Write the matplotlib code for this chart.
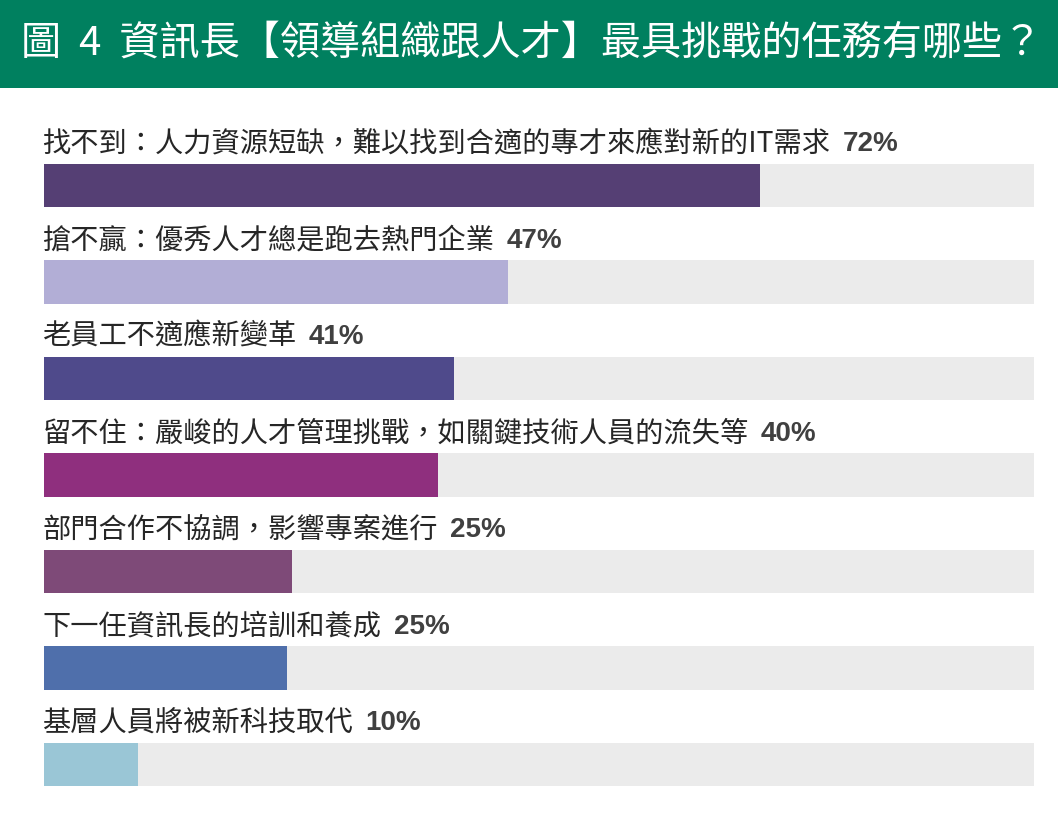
import matplotlib
matplotlib.use("Agg")
import matplotlib.pyplot as plt
from matplotlib.patches import Rectangle

plt.rcParams['font.family'] = ['Noto Sans CJK TC', 'DejaVu Sans']

title = "圖  4  資訊長【領導組織跟人才】最具挑戰的任務有哪些？"
labels = [
    "找不到：人力資源短缺，難以找到合適的專才來應對新的IT需求",
    "搶不贏：優秀人才總是跑去熱門企業",
    "老員工不適應新變革",
    "留不住：嚴峻的人才管理挑戰，如關鍵技術人員的流失等",
    "部門合作不協調，影響專案進行",
    "下一任資訊長的培訓和養成",
    "基層人員將被新科技取代",
]
values = [72.3, 46.9, 41.4, 39.8, 25.1, 24.5, 9.5]
value_text = ["72%", "47%", "41%", "40%", "25%", "25%", "10%"]
colors = ["#553f74", "#b2aed6", "#4f4a8b", "#8f2f7e", "#7e4a78", "#4f6fab", "#9ac6d6"]

W, H = 1058, 832
fig = plt.figure(figsize=(W / 100, H / 100), dpi=100)
fig.patch.set_facecolor("white")

# green title band
fig.patches.append(Rectangle((0, 1 - 88 / H), 1, 88 / H, transform=fig.transFigure,
                             facecolor="#00805f", edgecolor="none", zorder=0))
fig.text(21 / W, 1 - 44 / H, title, color="white", fontsize=28.9,
         ha="left", va="center")

ax = fig.add_axes([44 / W, 1 - 822.4 / H, (1034 - 44) / W, (822.4 - 89) / H])
ax.set_xlim(0, 100)
ax.set_ylim(6.6, -1.0)
ax.axis("off")

bh = 0.446
for i, (lab, v, vt, c) in enumerate(zip(labels, values, value_text, colors)):
    ax.barh(i, 100, height=bh, left=0, color="#ebebeb", zorder=1)
    ax.barh(i, v, height=bh, left=0, color=c, zorder=2)
    t = ax.text(-0.15, i - 0.43, lab, fontsize=20.3, color="#262626",
                ha="left", va="center")
    ax.annotate(vt, xy=(1, 0.5), xycoords=t, xytext=(12, 0),
                textcoords="offset pixels", ha="left", va="center",
                fontsize=20, fontweight="bold", color="#404040",
                family="Liberation Sans")

fig.savefig("out.png", dpi=100)
